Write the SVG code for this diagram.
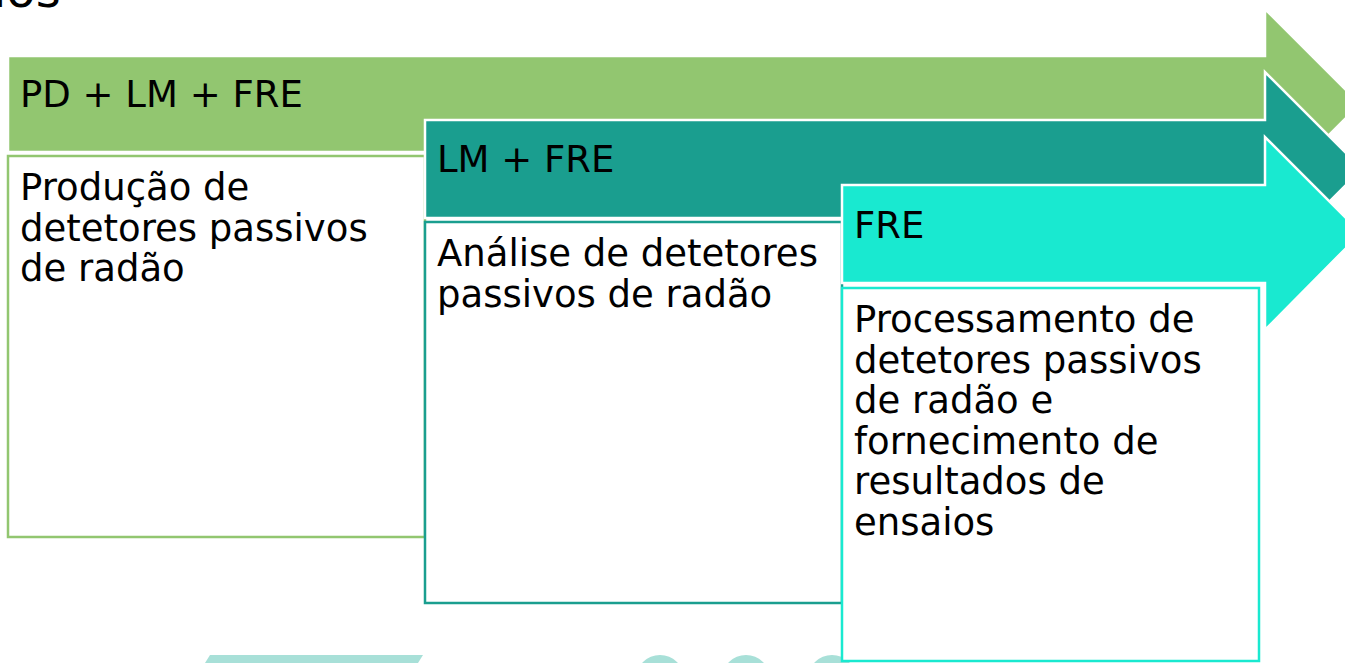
<svg xmlns="http://www.w3.org/2000/svg" width="1345" height="663" viewBox="0 0 1345 663">
  <style>
    .t { font-family: "DejaVu Sans", Verdana, sans-serif; font-size: 37px; fill: #000; }
    .arrow { stroke: #fff; stroke-width: 2.5; stroke-linejoin: miter; }
    .box { fill: #fff; stroke-width: 2.5; }
  </style>
  <rect width="1345" height="663" fill="#fff"/>
  <text x="-7" y="7" style="font-family: 'DejaVu Sans', Verdana, sans-serif; font-size: 48px; fill:#000;">ios</text>

  <g id="decor">
    <polygon points="210,655 423,655 418,663 205,663" fill="#A8E0D8"/>
    <circle cx="660" cy="679" r="24" fill="#A8E0D8"/>
    <circle cx="746" cy="679" r="24" fill="#A8E0D8"/>
    <circle cx="832" cy="679" r="24" fill="#A8E0D8"/>
  </g>

  <g id="connectors"></g>

  <g id="stage1-arrow">
    <polygon class="arrow" fill="#92C670" points="8,56 1265,56 1265,9 1360,104 1265,199 1265,152 8,152"/>
    <text class="t" x="20" y="107">PD + LM + FRE</text>
  </g>
  <g id="stage1-box">
    <rect class="box" stroke="#92C670" x="8" y="156" width="417" height="381"/>
    <text class="t" x="20" y="200">Produção de</text>
    <text class="t" x="20" y="241">detetores passivos</text>
    <text class="t" x="20" y="281">de radão</text>
  </g>

  <g id="stage2-arrow">
    <polygon class="arrow" fill="#1A9E8F" points="425,120 1265,120 1265,72 1362,169 1265,266 1265,218 425,218"/>
    <text class="t" x="437" y="172">LM + FRE</text>
  </g>
  <g id="stage2-box">
    <rect class="box" stroke="#1A9E8F" x="425" y="222" width="417" height="381"/>
    <text class="t" x="437" y="266">Análise de detetores</text>
    <text class="t" x="437" y="307">passivos de radão</text>
  </g>

  <g id="stage3-arrow">
    <polygon class="arrow" fill="#19E9D0" points="842,185 1265,185 1265,137 1361,233 1265,330 1265,283 842,283"/>
    <text class="t" x="854" y="238">FRE</text>
  </g>
  <g id="stage3-box">
    <rect class="box" stroke="#19E9D0" x="842" y="288" width="417" height="373"/>
    <text class="t" x="854" y="332">Processamento de</text>
    <text class="t" x="854" y="373">detetores passivos</text>
    <text class="t" x="854" y="413">de radão e</text>
    <text class="t" x="854" y="454">fornecimento de</text>
    <text class="t" x="854" y="494">resultados de</text>
    <text class="t" x="854" y="535">ensaios</text>
  </g>
</svg>
